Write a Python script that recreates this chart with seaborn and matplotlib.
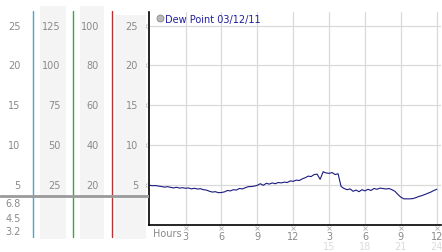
import numpy as np
import pandas as pd
import matplotlib
matplotlib.use("Agg")
import matplotlib.pyplot as plt
import matplotlib.transforms as mtransforms
from matplotlib.lines import Line2D
import seaborn as sns

# ---- data ----
hours = [i * 0.25 for i in range(97)]
dew_point = [
    4.95, 4.90, 4.92, 4.85, 4.80, 4.72, 4.78, 4.70, 4.62, 4.70, 4.60, 4.65,
    4.58, 4.62, 4.50, 4.58, 4.48, 4.52, 4.40, 4.35, 4.20, 4.10, 4.15, 4.02,
    4.05, 4.12, 4.30, 4.25, 4.40, 4.35, 4.55, 4.50, 4.65, 4.78, 4.80, 4.85,
    4.95, 5.15, 4.95, 5.20, 5.10, 5.25, 5.15, 5.30, 5.25, 5.35, 5.30, 5.50,
    5.45, 5.60, 5.55, 5.75, 5.90, 6.10, 6.05, 6.30, 6.35, 5.70, 6.65, 6.50,
    6.45, 6.55, 6.30, 6.40, 4.80, 4.55, 4.40, 4.50, 4.20, 4.35, 4.15, 4.40,
    4.25, 4.45, 4.30, 4.55, 4.45, 4.60, 4.55, 4.48, 4.55, 4.40, 4.20, 3.80,
    3.45, 3.25, 3.25, 3.25, 3.28, 3.40, 3.55, 3.65, 3.80, 3.95, 4.10, 4.30,
    4.45,
]
series_label = "Dew Point 03/12/11"

y_ticks = [5, 10, 15, 20, 25]
col1_labels = ["5", "10", "15", "20", "25"]
col2_labels = ["25", "50", "75", "100", "125"]
col3_labels = ["20", "40", "60", "80", "100"]
col4_labels = ["5", "10", "15", "20", "25"]
extra_labels = ["6.8", "4.5", "3.2"]

x_ticks = [3, 6, 9, 12, 15, 18, 21, 24]
x_labels = ["3", "6", "9", "12", "3", "6", "9", "12"]
x_labels2 = ["", "", "", "", "15", "18", "21", "24"]

df = pd.DataFrame({"hour": hours, "dew": dew_point})

# ---- figure ----
W, H = 442, 253
sns.set_style("white")
plt.rcParams["font.family"] = ["DejaVu Sans"]
fig = plt.figure(figsize=(W / 100, H / 100), dpi=100)

def px_rect(x0, y0, x1, y1):
    return [x0 / W, 1 - y1 / H, (x1 - x0) / W, (y1 - y0) / H]

YLO, YHI = 0.0, 26.7
main_top, main_bot = 13, 225.75
ax = fig.add_axes(px_rect(149, main_top, 441, main_bot))
sns.lineplot(data=df, x="hour", y="dew", ax=ax, color="#1a1a80", lw=0.8)
ax.set_xlim(-0.05, 24.35)
ax.set_ylim(YLO, YHI)
ax.set_xlabel("")
ax.set_ylabel("")
ax.set_xticks(x_ticks)
ax.set_yticks(y_ticks)
ax.set_xticklabels([])
ax.set_yticklabels([])
ax.tick_params(length=0)
ax.grid(True, color="#d9d9d9", lw=0.9)
ax.set_axisbelow(True)
for s in ["top", "right"]:
    ax.spines[s].set_visible(False)
for s in ["left", "bottom"]:
    ax.spines[s].set_color("black")
    ax.spines[s].set_linewidth(1.2)

gray = "#8a8a8a"
fs = 7
# x tick marks and labels
tb = mtransforms.blended_transform_factory(ax.transData, ax.transAxes)
ax.plot(x_ticks, [-0.017] * len(x_ticks), ls="", marker="x", ms=2.5, mew=0.6,
        color="#b0b0b0", transform=tb, clip_on=False)
for xv, l1, l2 in zip(x_ticks, x_labels, x_labels2):
    ax.text(xv, -0.030, l1, transform=tb, ha="center", va="top", fontsize=fs, color=gray)
    if l2:
        ax.text(xv, -0.078, l2, transform=tb, ha="center", va="top", fontsize=fs, color="#dcdcdc")
ax.text(0.013, -0.014, "Hours", transform=ax.transAxes, ha="left", va="top", fontsize=fs, color=gray)
# y tick marks
ty = mtransforms.blended_transform_factory(ax.transAxes, ax.transData)
ax.plot([-0.013] * len(y_ticks), y_ticks, ls="", marker="x", ms=2.5, mew=0.6,
        color="#b0b0b0", transform=ty, clip_on=False)

# legend
handle = Line2D([], [], ls="", marker="o", ms=5, mfc="#b8b8b8", mec="#8a8a8a", mew=0.6)
leg = ax.legend([handle], [series_label], loc="upper left", bbox_to_anchor=(0.0, 1.02),
                frameon=False, fontsize=7, handletextpad=0.05, borderaxespad=0.2,
                handlelength=1.0)
for t in leg.get_texts():
    t.set_color("#1f1fa0")

# ---- left panel ----
# same dew-point scale as main axes, spanning full figure height
scale = (main_bot - main_top) / (YHI - YLO)
p_hi = YHI + main_top / scale
p_lo = YLO - (H - main_bot) / scale
pax = fig.add_axes([0, 0, 149 / W, 1])
pax.set_xlim(0, 149)
pax.set_ylim(p_lo, p_hi)
pax.axis("off")

def v(ypx):
    return YHI - (ypx - main_top) / scale

def f(ypx):
    return (v(ypx) - p_lo) / (p_hi - p_lo)

strip = "#f4f4f4"
pax.axvspan(40, 66, ymin=f(240), ymax=f(7), color=strip, lw=0)
pax.axvspan(80, 104, ymin=f(240), ymax=f(7), color=strip, lw=0)
pax.axvspan(115, 146, ymin=f(240), ymax=f(16), color=strip, lw=0)

pax.axvline(33, f(237.5), f(12), color="#39a9d6", lw=1.0)
pax.axvline(72.5, f(237.5), f(12), color="#3aa83a", lw=1.0)
pax.axvline(111.5, f(237.5), f(12), color="#b83232", lw=1.0)
pax.axhline(v(197), 0, 1, color="#9a9a9a", lw=2.0)

for yv, a, b, c, d in zip(y_ticks, col1_labels, col2_labels, col3_labels, col4_labels):
    pax.text(20.5, yv, a, ha="right", va="center", fontsize=fs, color=gray)
    pax.text(60.5, yv, b, ha="right", va="center", fontsize=fs, color=gray)
    pax.text(99, yv, c, ha="right", va="center", fontsize=fs, color=gray)
    pax.text(138, yv, d, ha="right", va="center", fontsize=fs, color=gray)
for ypx, lab in zip([204, 219, 232], extra_labels):
    pax.text(20.5, v(ypx), lab, ha="right", va="center", fontsize=fs, color=gray)

fig.savefig("out.png", dpi=100)
